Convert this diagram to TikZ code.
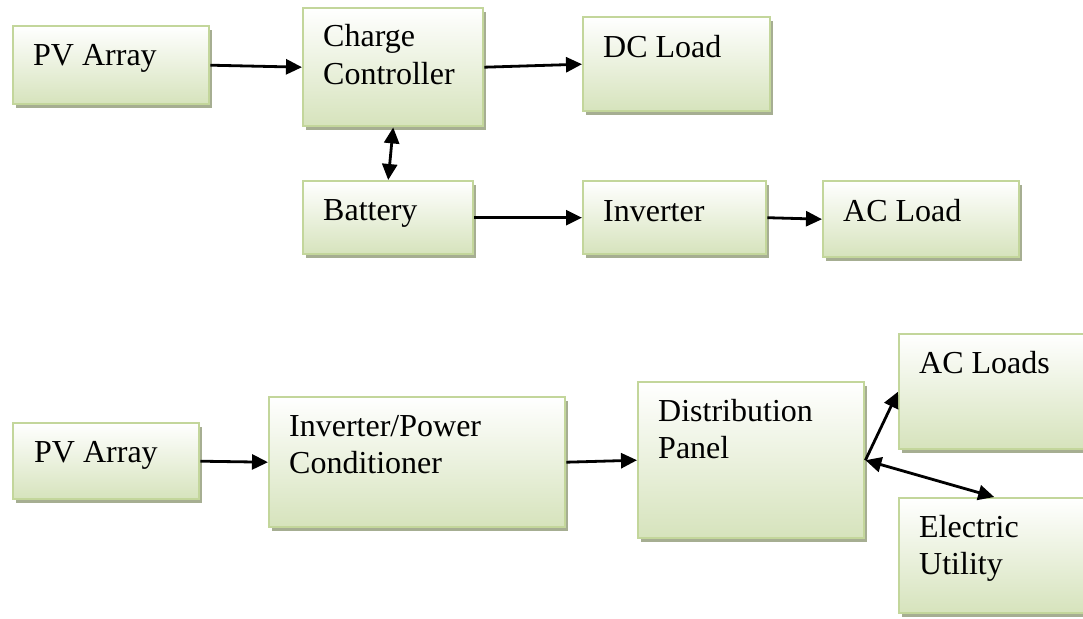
\documentclass[tikz,border=0pt]{standalone}
\usepackage{fontspec}
\setmainfont{Liberation Serif}
\usetikzlibrary{arrows.meta,shadows}
\definecolor{boxedge}{RGB}{195,214,155}
\definecolor{boxfill}{RGB}{214,227,188}
\definecolor{boxshadow}{RGB}{166,174,146}

\begin{document}
\begin{tikzpicture}[
  x=1pt, y=-1pt,
  blk/.style={rectangle, draw=boxedge, line width=2.4pt, top color=white,
              bottom color=boxfill, inner sep=0pt, anchor=north west,
              drop shadow={shadow xshift=3pt, shadow yshift=-4pt,
                           fill=boxshadow, opacity=1}},
  lbl/.style={anchor=base west, inner sep=0pt, align=left,
              font=\fontsize{32}{37}\selectfont},
  arr/.style={-{Triangle[length=16pt,width=15pt]}, line width=2.8pt, black},
  darr/.style={{Triangle[length=16pt,width=15pt]}-{Triangle[length=16pt,width=15pt]},
               line width=2.8pt, black}
]
\useasboundingbox (0,0) rectangle (1083,618);

% off-grid system
\node[blk, minimum width=196pt, minimum height=78pt]  (pva) at (12,25) {};
\node[blk, minimum width=180pt, minimum height=118pt] (cc)  at (302,7) {};
\node[blk, minimum width=187pt, minimum height=94pt]  (dcl) at (582,16) {};
\node[blk, minimum width=170pt, minimum height=73pt]  (bat) at (302,180) {};
\node[blk, minimum width=183pt, minimum height=73pt]  (inv) at (582,180) {};
\node[blk, minimum width=196pt, minimum height=76pt]  (acl) at (822,180) {};

% two-line labels sit on their last baseline
\node[lbl] (pvatxt) at (33,65)  {PV Array};
\node[lbl] (cctxt)  at (323,84) {Charge\\Controller};
\node[lbl] (dcltxt) at (603,57) {DC Load};
\node[lbl] (battxt) at (323,220) {Battery};
\node[lbl] (invtxt) at (603,221) {Inverter};
\node[lbl] (acltxt) at (843,221) {AC Load};

\draw[arr]  (pva.east) -- (cc.west);
\draw[arr]  (cc.east) -- (dcl.west);
\draw[darr] (cc.south) -- (bat.north);
\draw[arr]  (bat.east) -- (inv.west);
\draw[arr]  (inv.east) -- (acl.west);

% grid-tied system
\node[blk, minimum width=186pt, minimum height=76pt]  (pvb) at (12,422) {};
\node[blk, minimum width=296pt, minimum height=130pt] (ipc) at (268,396) {};
\node[blk, minimum width=226pt, minimum height=156pt] (dp)  at (637,381) {};
\node[blk, minimum width=190pt, minimum height=115pt] (acs) at (898,333) {};
\node[blk, minimum width=190pt, minimum height=115pt] (eu)  at (898,497) {};

\node[lbl] (pvbtxt) at (34,462)  {PV Array};
\node[lbl] (ipctxt) at (289,473) {Inverter/Power\\Conditioner};
\node[lbl] (dptxt)  at (658,458) {Distribution\\Panel};
\node[lbl] (acstxt) at (919,373) {AC Loads};
\node[lbl] (eutxt)  at (919,574) {Electric\\Utility};

\draw[arr]  (pvb.east) -- (ipc.west);
\draw[arr]  (ipc.east) -- (dp.west);
\draw[arr]  (dp.east) -- (acs.west);
\draw[darr] (dp.east) -- (eu.north);
\end{tikzpicture}
\end{document}
